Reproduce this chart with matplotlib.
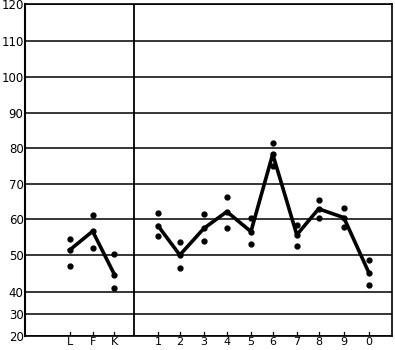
import numpy as np
import matplotlib
matplotlib.use("Agg")
import matplotlib.pyplot as plt

# y scale of the original sheet is uneven below 40
y_ticks = [20, 30, 40, 50, 60, 70, 80, 90, 100, 110, 120]
y_pix = [0, 22, 44, 81, 117, 152, 188, 223, 259, 295, 332]

labels = ["L", "F", "K", "1", "2", "3", "4", "5", "6", "7", "8", "9", "0"]
xpos = [1.95, 2.95, 3.9, 5.8, 6.75, 7.8, 8.8, 9.85, 10.8, 11.85, 12.8, 13.9, 15.0]

mean = [51.4, 56.6, 44.7, 58.1, 50.0, 57.4, 62.1, 56.5, 78.3, 55.6, 62.9, 60.4, 45.1]
upper = [54.5, 61.2, 50.3, 61.8, 53.7, 61.4, 66.2, 60.4, 81.3, 58.3, 65.4, 63.1, 48.7]
lower = [47.1, 52.0, 41.1, 55.2, 46.5, 53.8, 57.4, 53.1, 75.0, 52.4, 60.2, 57.8, 41.9]

fwd = lambda v: np.interp(v, y_ticks, y_pix)
inv = lambda p: np.interp(p, y_pix, y_ticks)

fig = plt.figure(figsize=(3.95, 3.5), dpi=100)
ax = fig.add_axes([25 / 395, 14 / 350, 367 / 395, 332 / 350])
ax.set_yscale("function", functions=(fwd, inv))
ax.set_ylim(20, 120)
ax.set_xlim(0, 16)

for v in y_ticks:
    ax.axhline(v, color="black", lw=1.1, zorder=1)

# divider between letter group and digits
ax.plot([4.75, 4.75], [20, 120], color="black", lw=1.3, zorder=1)
ax.plot([4.75, 4.75], [20, 17.3], color="black", lw=1.3, clip_on=False)

# left group and digit group drawn as separate lines
ax.plot(xpos[:3], mean[:3], color="black", lw=2.6, zorder=3)
ax.plot(xpos[3:], mean[3:], color="black", lw=2.6, zorder=3)
ax.plot(xpos, mean, "o", color="black", ms=3.5, zorder=4)
ax.plot(xpos, upper, "o", color="black", ms=3.5, zorder=4)
ax.plot(xpos, lower, "o", color="black", ms=3.5, zorder=4)

# little tick marks above the base line
for x in xpos:
    ax.plot([x, x], [20, 21.8], color="black", lw=0.9, zorder=2)

for s in ax.spines.values():
    s.set_color("black")
    s.set_linewidth(1.2)
ax.spines["left"].set_linewidth(1.5)

ax.set_yticks(y_ticks)
ax.set_yticklabels([str(v) for v in y_ticks], fontsize=8.5)
ax.set_xticks(xpos)
ax.set_xticklabels(labels, fontsize=8)
ax.tick_params(axis="both", length=0)
ax.tick_params(axis="x", pad=1)
ax.tick_params(axis="y", pad=1)

fig.savefig("out.png", dpi=100)
